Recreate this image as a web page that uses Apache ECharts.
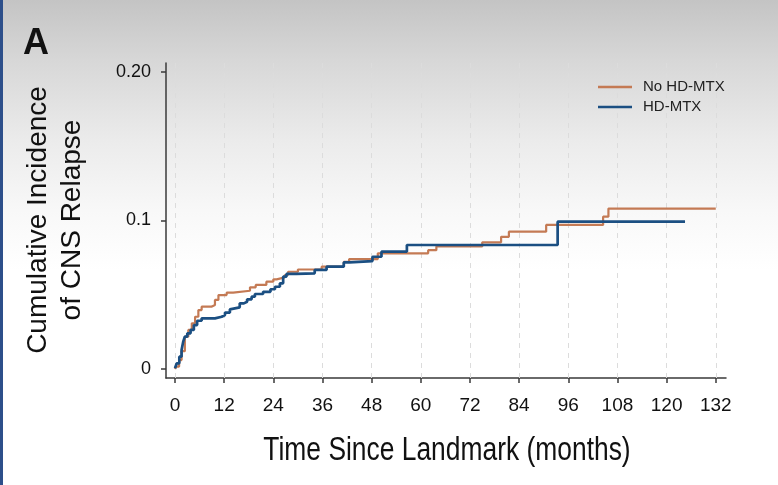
<!DOCTYPE html>
<html>
<head>
<meta charset="utf-8">
<script src="https://cdn.jsdelivr.net/npm/echarts@6/dist/echarts.min.js"></script>
<style>
  html, body { margin: 0; padding: 0; }
  body {
    width: 778px; height: 485px; overflow: hidden;
    background: linear-gradient(to bottom, #c4c4c4 0px, #d7d7d7 60px, #ebebeb 140px, #f8f8f8 210px, #ffffff 270px);
    border-left: 3px solid #2d4f8a; box-sizing: border-box;
  }
  #chart { position: absolute; left: 0; top: 0; width: 778px; height: 485px; }
</style>
</head>
<body>
<div id="chart"></div>
<script>
// Tick marks and labels
const xTicks = [0, 12, 24, 36, 48, 60, 72, 84, 96, 108, 120, 132];
const yTicks = [0, 0.1, 0.2];
const yTickLabels = ['0', '0.1', '0.20'];

// No HD-MTX (orange): event times (months) and cumulative incidence after each step
const noHdTime = [0, 0.24, 1.0, 1.6, 2.4, 3.25, 4.1, 4.9, 5.7, 6.5, 8.9, 9.75, 10.6, 12.6, 14.2, 18.3, 19.7, 22.3, 24.0, 24.8, 26.8, 27.6, 30.0, 35.8, 41.2, 42.5, 49.5, 61.8, 63.8, 75.0, 79.6, 81.5, 90.6, 104.5, 105.8, 132];
const noHdValue = [0, 0.0016, 0.006, 0.012, 0.0218, 0.0263, 0.0308, 0.0352, 0.0397, 0.042, 0.0431, 0.0465, 0.0498, 0.0514, 0.0527, 0.055, 0.0566, 0.0588, 0.0604, 0.0617, 0.0633, 0.0655, 0.067, 0.0689, 0.0722, 0.074, 0.0779, 0.080, 0.0825, 0.0853, 0.089, 0.0925, 0.097, 0.1026, 0.108, 0.108];

// HD-MTX (blue)
const hdTime = [0, 0.4, 1.05, 1.6, 2.0, 2.4, 3.0, 3.8, 4.6, 5.4, 6.5, 9.75, 11.4, 12.2, 13.4, 13.8, 15.8, 16.8, 17.6, 18.7, 19.5, 21.5, 23.3, 24.4, 25.6, 26.4, 27.2, 29.6, 34.1, 37.0, 41.2, 42.6, 48.2, 50.4, 56.6, 93.4, 124.5];
const hdValue = [0.0005, 0.0038, 0.0083, 0.0128, 0.0184, 0.0218, 0.024, 0.0263, 0.0296, 0.0325, 0.0341, 0.0352, 0.0364, 0.038, 0.0402, 0.0415, 0.0442, 0.0453, 0.0469, 0.0487, 0.0505, 0.052, 0.0537, 0.0554, 0.0577, 0.0622, 0.064, 0.0644, 0.0667, 0.0689, 0.0718, 0.0727, 0.0756, 0.079, 0.0835, 0.0992, 0.0992];

const seriesNames = ['No HD-MTX', 'HD-MTX'];
const seriesColors = ['#c47a54', '#1b4f82'];

const chart = echarts.init(document.getElementById('chart'), null, { renderer: 'canvas' });
const zip = (a, b) => a.map((t, i) => [t, b[i]]);
const sans = '"Liberation Sans", Arial, sans-serif';

chart.setOption({
  backgroundColor: 'transparent',
  animation: false,
  grid: { left: 166, right: 52, top: 63, bottom: 107 },
  xAxis: {
    type: 'value', min: -2.2, max: 134.5,
    axisLine: { show: true, onZero: false, lineStyle: { color: '#3a3a3a', width: 1.5 } },
    axisTick: { show: true, customValues: xTicks, length: 5, lineStyle: { color: '#3a3a3a', width: 1.5 } },
    axisLabel: { show: true, customValues: xTicks, margin: 18, fontSize: 19, color: '#111', fontFamily: sans },
    splitLine: { show: false }
  },
  yAxis: {
    type: 'value', min: -0.00606, max: 0.20606,
    axisLine: { show: true, onZero: false, lineStyle: { color: '#3a3a3a', width: 1.5 } },
    axisTick: { show: true, customValues: yTicks, length: 5, lineStyle: { color: '#3a3a3a', width: 1.5 } },
    axisLabel: {
      show: true, customValues: yTicks, margin: 15, fontSize: 18, color: '#111', fontFamily: sans,
      formatter: v => { const i = yTicks.findIndex(t => Math.abs(t - v) < 1e-9); return i >= 0 ? yTickLabels[i] : ''; }
    },
    splitLine: { show: false }
  },
  legend: {
    data: seriesNames,
    orient: 'vertical', left: 593, top: 74, itemGap: 4, z: 10,
    icon: 'path://M0 0 H100 V10 H0 Z',
    symbolKeepAspect: false,
    itemWidth: 34, itemHeight: 2.5,
    itemStyle: { borderWidth: 0 },
    textStyle: { fontSize: 15, color: '#222', fontFamily: sans, padding: [0, 0, 0, 6], lineHeight: 16 }
  },
  graphic: [
    { type: 'text', left: 23, top: 26, style: { text: 'A', font: 'bold 36px "Liberation Sans", Arial, sans-serif', fill: '#111' } },
    { type: 'text', x: 55, y: 220, rotation: Math.PI / 2,
      style: { text: 'Cumulative Incidence\nof CNS Relapse', font: '28px "Liberation Sans", Arial, sans-serif', fill: '#111', align: 'center', verticalAlign: 'middle', lineHeight: 34 } },
    { type: 'text', x: 447, y: 451, scaleX: 0.8,
      style: { text: 'Time Since Landmark (months)', font: '33px "Liberation Sans", Arial, sans-serif', fill: '#111', align: 'center', verticalAlign: 'middle' } }
  ],
  series: [
    {
      name: 'gridlines', type: 'line', data: [], silent: true, z: 1,
      markLine: {
        z: 1, silent: true, symbol: ['none', 'none'], label: { show: false },
        lineStyle: { color: '#dcdcdc', type: [5, 5], width: 1 },
        data: xTicks.map(v => ({ xAxis: v }))
      }
    },
    {
      name: seriesNames[0], type: 'line', step: 'end', symbol: 'none', z: 2,
      data: zip(noHdTime, noHdValue),
      itemStyle: { color: seriesColors[0] },
      lineStyle: { color: seriesColors[0], width: 2.2 }
    },
    {
      name: seriesNames[1], type: 'line', step: 'end', symbol: 'none', z: 3,
      data: zip(hdTime, hdValue),
      itemStyle: { color: seriesColors[1] },
      lineStyle: { color: seriesColors[1], width: 2.7 }
    }
  ]
});
</script>
</body>
</html>
